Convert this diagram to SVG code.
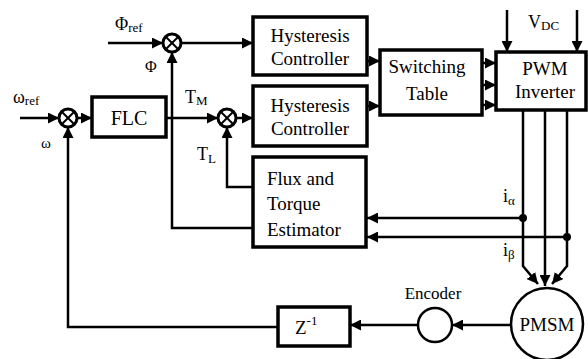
<svg xmlns="http://www.w3.org/2000/svg" width="588" height="359" viewBox="0 0 588 359" font-family="'Liberation Serif', 'DejaVu Serif', 'Times New Roman', serif">
<style>
.box{fill:#fff;stroke:#000;stroke-width:3.5}
.ln{fill:none;stroke:#000;stroke-width:2.5}
.ar{fill:none;stroke:#000;stroke-width:2.5;marker-end:url(#ah)}
.sum{fill:#fff;stroke:#000;stroke-width:3}
.x{stroke:#000;stroke-width:2}
text{font-family:'Liberation Serif','DejaVu Serif','Times New Roman',serif;fill:#000}
.t{font-size:19px}
.tc{font-size:19px;text-anchor:middle}
.lb{font-size:18px}
.sub{font-size:13px}
</style>
<defs>
<marker id="ah" viewBox="0 0 10 10" refX="10" refY="5" markerWidth="4.4" markerHeight="4.4" orient="auto" markerUnits="strokeWidth">
<path d="M0,0 L10,5 L0,10 Z" fill="#000"/>
</marker>
<g id="sumsym">
<circle r="9" class="sum"/>
<line x1="-6" y1="-6" x2="6" y2="6" class="x"/>
<line x1="-6" y1="6" x2="6" y2="-6" class="x"/>
</g>
</defs>

<g id="connectors">
<line x1="20" y1="118" x2="59" y2="118" class="ar"/>
<line x1="77" y1="118" x2="92" y2="118" class="ar"/>
<line x1="166" y1="118" x2="218" y2="118" class="ar"/>
<line x1="236" y1="118" x2="253" y2="118" class="ar"/>
<line x1="108" y1="43" x2="163" y2="43" class="ar"/>
<line x1="181" y1="43" x2="253" y2="43" class="ar"/>
<line x1="367" y1="61" x2="380" y2="61" class="ar"/>
<line x1="367" y1="106" x2="380" y2="106" class="ar"/>
<line x1="482" y1="63" x2="496" y2="63" class="ar"/>
<line x1="482" y1="85" x2="496" y2="85" class="ar"/>
<line x1="482" y1="105" x2="496" y2="105" class="ar"/>
<line x1="507" y1="10" x2="507" y2="52" class="ar"/>
<line x1="577" y1="10" x2="577" y2="52" class="ar"/>
<polyline points="523,110 523,266 538,284" class="ar"/>
<line x1="545" y1="110" x2="545" y2="286" class="ar"/>
<polyline points="567,110 567,266 552,284" class="ar"/>
<line x1="523" y1="218" x2="367" y2="218" class="ar"/>
<line x1="567" y1="237" x2="367" y2="237" class="ar"/>
<circle cx="523" cy="218" r="4" fill="#000"/>
<circle cx="567" cy="237" r="4" fill="#000"/>
<polyline points="253,187 227,187 227,127" class="ar"/>
<polyline points="253,228 172,228 172,52" class="ar"/>
<line x1="511" y1="325" x2="452" y2="325" class="ar"/>
<line x1="418" y1="325" x2="350" y2="325" class="ar"/>
<polyline points="278,327 68,327 68,127" class="ar"/>
</g>

<g id="sum-omega"><use href="#sumsym" x="68" y="118"/></g>
<g id="sum-phi"><use href="#sumsym" x="172" y="43"/></g>
<g id="sum-torque"><use href="#sumsym" x="227" y="118"/></g>

<g id="flc">
<rect x="92" y="97" width="74" height="40" class="box"/>
<text x="129" y="125" class="tc" style="font-size:20px">FLC</text>
</g>

<g id="hyst1">
<rect x="253" y="17" width="114" height="58" class="box"/>
<text x="310" y="42" class="tc">Hysteresis</text>
<text x="310" y="65" class="tc">Controller</text>
</g>

<g id="hyst2">
<rect x="253" y="86" width="114" height="60" class="box"/>
<text x="310" y="112" class="tc">Hysteresis</text>
<text x="310" y="135" class="tc">Controller</text>
</g>

<g id="switching">
<rect x="380" y="50" width="102" height="65" class="box"/>
<text x="427" y="73" class="tc">Switching</text>
<text x="427" y="100" class="tc">Table</text>
</g>

<g id="pwm">
<rect x="496" y="52" width="90" height="58" class="box"/>
<text x="545" y="75" class="tc">PWM</text>
<text x="545" y="98" class="tc">Inverter</text>
</g>

<g id="estimator">
<rect x="253" y="157" width="113" height="90" class="box"/>
<text x="267" y="185" class="t">Flux and</text>
<text x="267" y="210" class="t">Torque</text>
<text x="267" y="236" class="t">Estimator</text>
</g>

<g id="zinv">
<rect x="278" y="307" width="72" height="39" class="box"/>
<text x="295" y="334" class="t">Z<tspan class="sub" dy="-9">-1</tspan></text>
</g>

<g id="encoder">
<circle cx="435" cy="325" r="17" fill="#fff" stroke="#000" stroke-width="2.5"/>
<text x="433" y="299" class="tc" style="font-size:17px">Encoder</text>
</g>

<g id="pmsm">
<circle cx="547" cy="324" r="36" fill="#fff" stroke="#000" stroke-width="2.5"/>
<text x="547" y="331" class="tc">PMSM</text>
</g>

<g id="labels">
<text x="115" y="30" class="lb">Φ<tspan class="sub" dy="2">ref</tspan></text>
<text x="13" y="103" class="lb">ω<tspan class="sub" dy="2">ref</tspan></text>
<text x="41" y="148" style="font-size:15px">ω</text>
<text x="145" y="72" style="font-size:16px">Φ</text>
<text x="185" y="103" class="lb">T<tspan class="sub" dy="2">M</tspan></text>
<text x="197" y="160" class="lb">T<tspan class="sub" dy="3">L</tspan></text>
<text x="528" y="28" class="lb">V<tspan class="sub" dy="2">DC</tspan></text>
<text x="503" y="202" class="lb">i<tspan class="sub" dy="3">α</tspan></text>
<text x="503" y="256" class="lb">i<tspan class="sub" dy="3">β</tspan></text>
</g>
</svg>
